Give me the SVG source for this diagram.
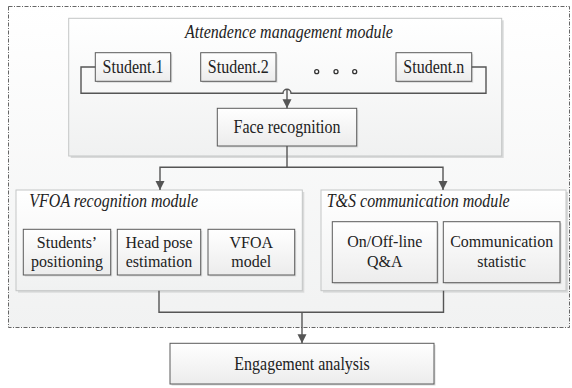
<svg xmlns="http://www.w3.org/2000/svg" width="572" height="388" viewBox="0 0 572 388">
<style>
text{font-family:'Liberation Serif','DejaVu Serif',serif;font-size:16px;fill:#222}
.t{text-anchor:middle}
.ti{font-style:italic}
.mod{fill:url(#gm);stroke:#c4c6c6;stroke-width:1}
.box{fill:url(#gb);stroke:#5a5a5a;stroke-width:1}
.sh{fill:#d9dada}
.c{fill:none;stroke:#555;stroke-width:1.4}
</style>
<defs>
<linearGradient id="gm" x1="0" y1="0" x2="0" y2="1"><stop offset="0" stop-color="#ffffff"/><stop offset="1" stop-color="#f0f1f1"/></linearGradient>
<linearGradient id="gb" x1="0" y1="0" x2="0" y2="1"><stop offset="0" stop-color="#ffffff"/><stop offset="1" stop-color="#ececec"/></linearGradient>
<linearGradient id="gd" x1="0" y1="0" x2="0" y2="1"><stop offset="0" stop-color="#ffffff"/><stop offset="1" stop-color="#f1f2f2"/></linearGradient>
<marker id="ah" markerUnits="userSpaceOnUse" markerWidth="10" markerHeight="10" refX="9" refY="4.5" orient="auto"><path d="M0,0 L9,4.5 L0,9 z" fill="#555"/></marker>
</defs>
<rect id="outer" x="8.5" y="6.5" width="561" height="321" fill="url(#gd)" stroke="#666" stroke-width="1" stroke-dasharray="4 1.5 1 1.5"/>
<g id="attendance">
<rect class="sh" x="70.7" y="20.3" width="433" height="137.7"/>
<rect class="mod" x="68.7" y="18.3" width="433" height="137.7"/>
<text class="ti" font-family="Liberation Serif" transform="translate(289,37.5) scale(1,1.15)" text-anchor="middle">Attendence management module</text>
</g>
<g id="student1">
<rect class="sh" x="96.8" y="54.2" width="75.4" height="28.6"/>
<rect class="box" x="95.3" y="52.7" width="75.4" height="28.6"/>
<text class="t" font-family="Liberation Serif" transform="translate(133,72.8) scale(1,1.15)">Student.1</text>
</g>
<g id="student2">
<rect class="sh" x="202.2" y="54.2" width="75.3" height="28.6"/>
<rect class="box" x="200.7" y="52.7" width="75.3" height="28.6"/>
<text class="t" font-family="Liberation Serif" transform="translate(238.3,72.8) scale(1,1.15)">Student.2</text>
</g>
<g id="dots" fill="#fff" stroke="#333" stroke-width="1.3">
<circle cx="316.7" cy="71.7" r="2"/><circle cx="336" cy="71.7" r="2"/><circle cx="354.7" cy="71.7" r="2"/>
</g>
<g id="studentn">
<rect class="sh" x="397.5" y="54.2" width="75.7" height="28.6"/>
<rect class="box" x="396" y="52.7" width="75.7" height="28.6"/>
<text class="t" font-family="Liberation Serif" transform="translate(433.8,72.8) scale(1,1.15)">Student.n</text>
</g>
<g id="face">
<rect class="sh" x="218.8" y="109.8" width="139.4" height="37.7"/>
<rect class="box" x="217.3" y="108.3" width="139.4" height="37.7"/>
<text class="t" font-family="Liberation Serif" transform="translate(287,133) scale(1,1.15)">Face recognition</text>
</g>
<g id="vfoa">
<rect class="sh" x="18" y="192" width="286.3" height="100.7"/>
<rect class="mod" x="16" y="190" width="286.3" height="100.7"/>
<text class="ti" font-family="Liberation Serif" transform="translate(29.3,206.5) scale(1,1.15)">VFOA recognition module</text>
</g>
<g id="positioning">
<rect class="sh" x="24.8" y="230.8" width="87.4" height="45.7"/>
<rect class="box" x="23.3" y="229.3" width="87.4" height="45.7"/>
<text class="t" font-family="Liberation Serif" transform="translate(67,248) scale(1,1.1)">Students’</text>
<text class="t" font-family="Liberation Serif" transform="translate(67,267) scale(1,1.1)">positioning</text>
</g>
<g id="headpose">
<rect class="sh" x="118.8" y="230.8" width="83.4" height="45.7"/>
<rect class="box" x="117.3" y="229.3" width="83.4" height="45.7"/>
<text class="t" font-family="Liberation Serif" transform="translate(159,248) scale(1,1.1)">Head pose</text>
<text class="t" font-family="Liberation Serif" transform="translate(159,267) scale(1,1.1)">estimation</text>
</g>
<g id="vfoamodel">
<rect class="sh" x="209.5" y="230.8" width="86.7" height="45.7"/>
<rect class="box" x="208" y="229.3" width="86.7" height="45.7"/>
<text class="t" font-family="Liberation Serif" transform="translate(251.3,248) scale(1,1.1)">VFOA</text>
<text class="t" font-family="Liberation Serif" transform="translate(251.3,267) scale(1,1.1)">model</text>
</g>
<g id="ts">
<rect class="sh" x="323" y="192" width="245" height="100.7"/>
<rect class="mod" x="321" y="190" width="245" height="100.7"/>
<text class="ti" font-family="Liberation Serif" transform="translate(326.7,206.5) scale(1,1.15)">T&amp;S communication module</text>
</g>
<g id="qa">
<rect class="sh" x="333.8" y="223.2" width="105" height="61"/>
<rect class="box" x="332.3" y="221.7" width="105" height="61"/>
<text class="t" font-family="Liberation Serif" transform="translate(384.8,246.5) scale(1,1.1)">On/Off-line</text>
<text class="t" font-family="Liberation Serif" transform="translate(384.8,266.5) scale(1,1.1)">Q&amp;A</text>
</g>
<g id="commstat">
<rect class="sh" x="444.8" y="223.2" width="116.7" height="61"/>
<rect class="box" x="443.3" y="221.7" width="116.7" height="61"/>
<text class="t" font-family="Liberation Serif" transform="translate(501.7,246.5) scale(1,1.1)">Communication</text>
<text class="t" font-family="Liberation Serif" transform="translate(501.7,266.5) scale(1,1.1)">statistic</text>
</g>
<g id="engagement">
<rect class="sh" x="171.5" y="344.8" width="264" height="40.7"/>
<rect class="box" x="170" y="343.3" width="264" height="40.7"/>
<text class="t" font-family="Liberation Serif" transform="translate(302,369.5) scale(1,1.15)">Engagement analysis</text>
</g>
<g id="connectors">
<path class="c" d="M95.3,67 H81 V93.3 H283 A4,4 0 0 1 291,93.3 H486 V67 H471.7"/>
<path class="c" d="M287,89.3 V108.3" marker-end="url(#ah)"/>
<path class="c" d="M287,146 V167.3 H160 V190" marker-end="url(#ah)"/>
<path class="c" d="M287,167.3 H443 V190" marker-end="url(#ah)"/>
<path class="c" d="M159,290.7 V312.3 H443.5 V290.7"/>
<path class="c" d="M302,312.3 V343.3" marker-end="url(#ah)"/>
</g>
</svg>
